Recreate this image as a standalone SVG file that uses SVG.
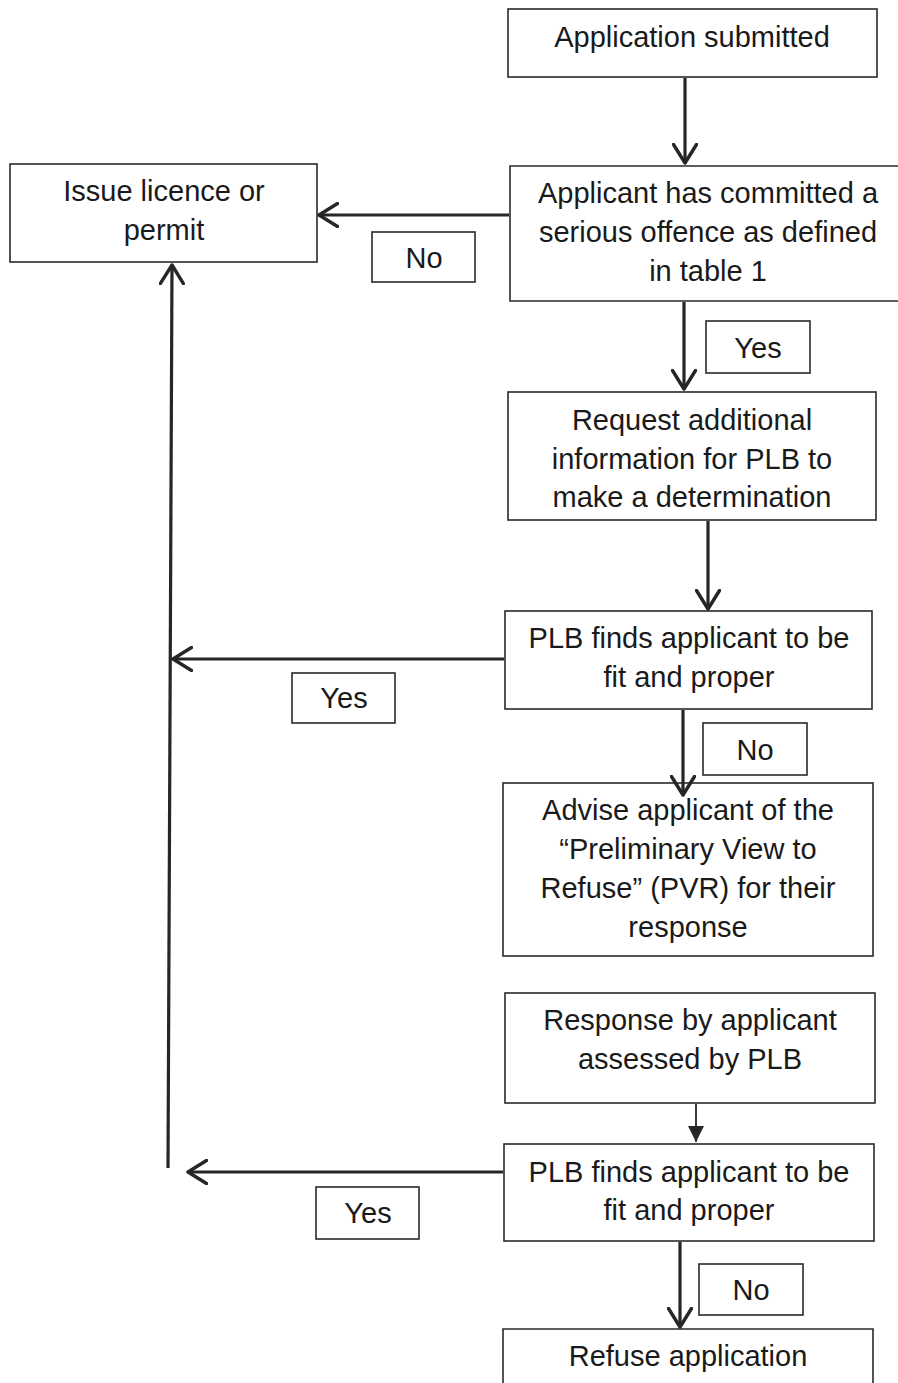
<svg xmlns="http://www.w3.org/2000/svg" width="898" height="1383" viewBox="0 0 898 1383">
<style>
.box{fill:#fff;stroke:#2a2a2a;stroke-width:1.6}
.t{font-family:"Liberation Sans",Arial,sans-serif;font-size:29px;fill:#1a1a1a;text-anchor:middle;dominant-baseline:central}
.c{fill:none;stroke:#262626;stroke-width:3.2}
.thin{fill:none;stroke:#262626;stroke-width:1.8}
</style>
<defs>
<marker id="open" viewBox="0 0 22 26" refX="20" refY="13" markerWidth="22" markerHeight="26" markerUnits="userSpaceOnUse" orient="auto">
<path d="M1.5,1.5 L20,13 L1.5,24.5" fill="none" stroke="#262626" stroke-width="3.4" stroke-linecap="round" stroke-linejoin="round"/>
</marker>
<marker id="tri" viewBox="0 0 16 16" refX="16" refY="8" markerWidth="16" markerHeight="16" markerUnits="userSpaceOnUse" orient="auto">
<path d="M0,0 L16,8 L0,16 Z" fill="#262626"/>
</marker>
</defs>
<rect width="898" height="1383" fill="#fff"/>
<g id="n-submitted">
<rect class="box" x="508" y="9" width="369" height="68"/>
<text class="t" x="692" y="37">Application submitted</text>
</g>
<g id="n-offence">
<path class="box" d="M900,166 L510,166 L510,301 L900,301"/>
<text class="t" x="708" y="193">Applicant has committed a</text>
<text class="t" x="708" y="232">serious offence as defined</text>
<text class="t" x="708" y="271">in table 1</text>
</g>
<g id="n-issue">
<rect class="box" x="10" y="164" width="307" height="98"/>
<text class="t" x="164" y="191">Issue licence or</text>
<text class="t" x="164" y="230">permit</text>
</g>
<g id="l-no1">
<rect class="box" x="372" y="232" width="103" height="50"/>
<text class="t" x="424" y="258">No</text>
</g>
<g id="l-yes1">
<rect class="box" x="706" y="321" width="104" height="52"/>
<text class="t" x="758" y="348">Yes</text>
</g>
<g id="n-request">
<rect class="box" x="508" y="392" width="368" height="128"/>
<text class="t" x="692" y="420">Request additional</text>
<text class="t" x="692" y="459">information for PLB to</text>
<text class="t" x="692" y="497">make a determination</text>
</g>
<g id="n-fit1">
<rect class="box" x="505" y="611" width="367" height="98"/>
<text class="t" x="689" y="638">PLB finds applicant to be</text>
<text class="t" x="689" y="677">fit and proper</text>
</g>
<g id="l-yes2">
<rect class="box" x="292" y="673" width="103" height="50"/>
<text class="t" x="344" y="698">Yes</text>
</g>
<g id="l-no2">
<rect class="box" x="703" y="723" width="104" height="52"/>
<text class="t" x="755" y="750">No</text>
</g>
<g id="n-advise">
<rect class="box" x="503" y="783" width="370" height="173"/>
<text class="t" x="688" y="810">Advise applicant of the</text>
<text class="t" x="688" y="849">“Preliminary View to</text>
<text class="t" x="688" y="888">Refuse” (PVR) for their</text>
<text class="t" x="688" y="927">response</text>
</g>
<g id="n-response">
<rect class="box" x="505" y="993" width="370" height="110"/>
<text class="t" x="690" y="1020">Response by applicant</text>
<text class="t" x="690" y="1059">assessed by PLB</text>
</g>
<g id="n-fit2">
<rect class="box" x="504" y="1144" width="370" height="97"/>
<text class="t" x="689" y="1172">PLB finds applicant to be</text>
<text class="t" x="689" y="1210">fit and proper</text>
</g>
<g id="l-yes3">
<rect class="box" x="316" y="1187" width="103" height="52"/>
<text class="t" x="368" y="1213">Yes</text>
</g>
<g id="l-no3">
<rect class="box" x="699" y="1264" width="104" height="51"/>
<text class="t" x="751" y="1290">No</text>
</g>
<g id="n-refuse">
<path class="box" d="M503,1390 L503,1329 L873,1329 L873,1390"/>
<text class="t" x="688" y="1356">Refuse application</text>
</g>
<g id="connectors">
<line class="c" x1="685" y1="78" x2="685" y2="163" marker-end="url(#open)"/>
<line class="c" x1="509" y1="215" x2="319" y2="215" marker-end="url(#open)"/>
<line class="c" x1="684" y1="302" x2="684" y2="389" marker-end="url(#open)"/>
<line class="c" x1="708" y1="521" x2="708" y2="609" marker-end="url(#open)"/>
<line class="c" x1="504" y1="659" x2="173" y2="659" marker-end="url(#open)"/>
<line class="c" x1="683" y1="710" x2="683" y2="795" marker-end="url(#open)"/>
<line class="thin" x1="696" y1="1104" x2="696" y2="1142" marker-end="url(#tri)"/>
<line class="c" x1="503" y1="1172" x2="188" y2="1172" marker-end="url(#open)"/>
<line class="c" x1="168" y1="1168" x2="172" y2="265" marker-end="url(#open)"/>
<line class="c" x1="680" y1="1242" x2="680" y2="1327" marker-end="url(#open)"/>
</g>
</svg>
